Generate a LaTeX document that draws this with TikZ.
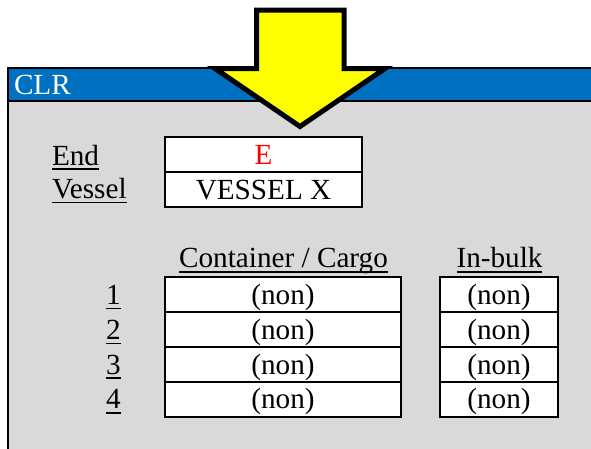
\documentclass[tikz,border=0pt]{standalone}
\usepackage{fontspec}
\setmainfont{Liberation Serif}
\definecolor{titleblue}{HTML}{0070C0}
\definecolor{panelgray}{HTML}{D9D9D9}
\definecolor{arrowyellow}{HTML}{FFFF00}
\begin{document}
\begin{tikzpicture}[x=1pt,y=-1pt,
  font=\fontsize{29.2}{34}\selectfont,
  cell/.style={draw=black, line width=1.8pt, fill=white, inner sep=0pt, outer sep=0pt,
    text height=19.2pt, text depth=0pt, anchor=center},
  ccell/.style={cell, minimum width=236pt, minimum height=34.9pt},
  bcell/.style={cell, minimum width=117.4pt, minimum height=34.9pt},
  lbl/.style={inner sep=0pt, outer sep=0pt, anchor=base west},
  hdr/.style={inner sep=0pt, outer sep=0pt, anchor=base},
  uline/.style={line width=1.7pt},
  bigarrow/.style={draw=black, fill=arrowyellow, line width=5pt, line join=miter}]
\useasboundingbox (0,0) rectangle (591,448);
\fill[white] (0,0) rectangle (591,448);
% window
\begin{scope}
  \clip (0,0) rectangle (591,448);
  \fill[panelgray] (7.8,67.8) rectangle (600,460);
  \fill[titleblue] (7.8,67.8) rectangle (600,101);
  \draw[line width=2.3pt] (600,67.8) -- (7.8,67.8) -- (7.8,460);
  \draw[line width=2pt] (7.8,101) -- (600,101);
\end{scope}
\node[lbl, text=white] (title) at (14,94.3) {CLR};
% arrow
\draw[bigarrow] (256.5,10) -- (344.2,10) -- (344.2,68.5) -- (385,68.5) -- (300,126.5)
  -- (215,68.5) -- (256.5,68.5) -- cycle;
% End / Vessel
\node[lbl] (end) at (52,165) {End};
\node[lbl] (vessel) at (52,198.3) {Vessel};
\node[cell, minimum width=196.6pt, minimum height=35.2pt, text=red] (endval) at (263.5,154.4) {E};
\node[cell, minimum width=196.6pt, minimum height=34.8pt] (vesselval) at (263.5,189.4) {VESSEL X};
% headers
\node[hdr] (hcc) at (283.5,267.7) {Container / Cargo};
\node[hdr] (hib) at (499.5,267.7) {In-bulk};
% rows
\foreach \i/\y in {1/294.6,2/329.5,3/364.4,4/399.3}{
  \node[lbl] (n\i) at (106,\y+9.6) {\i};
  \node[ccell] (c\i) at (283,\y) {(non)};
  \node[bcell] (b\i) at (499,\y) {(non)};
}
% underlines
\foreach \n in {end,vessel,hcc,hib,n1,n2,n3,n4}
  \draw[uline] ([yshift=-4.3pt]\n.base west) -- ([yshift=-4.3pt]\n.base east);
\end{tikzpicture}
\end{document}
